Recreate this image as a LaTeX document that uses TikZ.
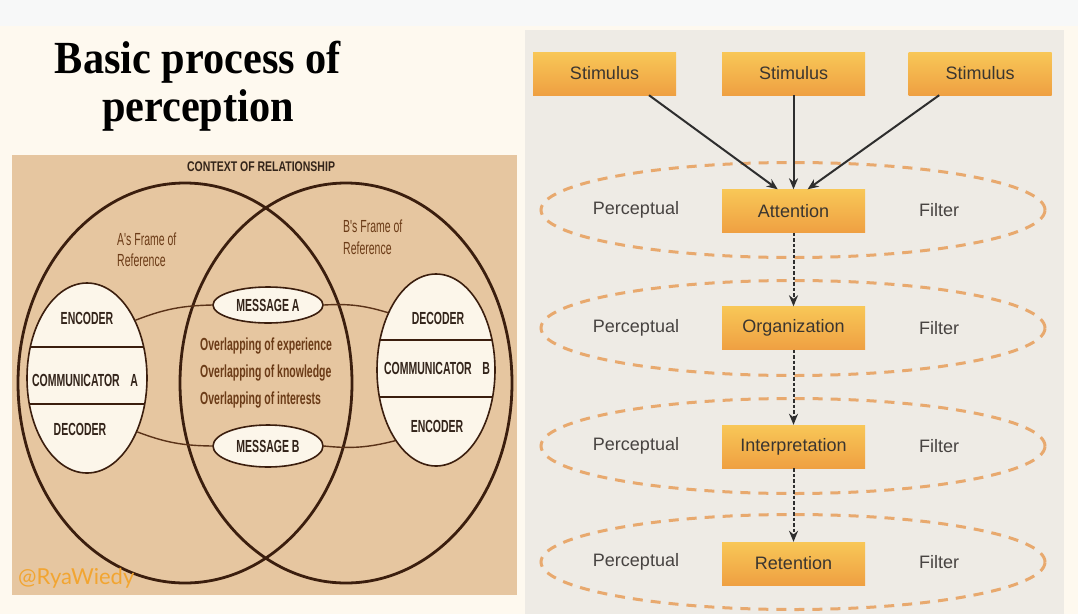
\documentclass[tikz,border=0pt]{standalone}
\usepackage{fontspec}
\setmainfont{Liberation Sans}
\newfontfamily\narrowsans[FakeStretch=0.6]{Liberation Sans}
\newfontfamily\ctxsans[FakeStretch=0.75]{Liberation Sans}
\newfontfamily\titleserif[FakeStretch=0.92]{Liberation Serif}
\newfontfamily\wmfont{Lato}
\usetikzlibrary{shapes.geometric,arrows.meta}
\definecolor{topstrip}{HTML}{F7F8F8}
\definecolor{creambg}{HTML}{FEF9EF}
\definecolor{rightbg}{HTML}{EEEBE5}
\definecolor{tanbg}{HTML}{E6C6A0}
\definecolor{darkbrown}{HTML}{3B1E0E}
\definecolor{linebrown}{HTML}{5A3218}
\definecolor{ellfill}{HTML}{FCF6EA}
\definecolor{browntext}{HTML}{6B3B17}
\definecolor{darktext}{HTML}{33241A}
\definecolor{dashorange}{HTML}{E8A96E}
\definecolor{boxtop}{HTML}{F8C757}
\definecolor{boxbottom}{HTML}{EFA042}
\definecolor{boxtext}{HTML}{3A3530}
\definecolor{labeltext}{HTML}{474341}
\definecolor{arrowgray}{HTML}{2E2E2E}
\definecolor{wmorange}{HTML}{F2A531}
\begin{document}
\begin{tikzpicture}[x=1pt,y=-1pt,
  bigcircle/.style={draw=darkbrown, line width=2.8pt},
  smallell/.style={ellipse, draw=darkbrown, line width=1.6pt, fill=ellfill, inner sep=0pt},
  chord/.style={draw=darkbrown, line width=1.5pt},
  conn/.style={draw=linebrown, line width=1.4pt},
  celltext/.style={text=darktext, font=\narrowsans\bfseries\fontsize{17.5}{19}\selectfont, inner sep=0pt},
  browntxt/.style={text=browntext, font=\narrowsans\fontsize{17.5}{21}\selectfont, inner sep=0pt, align=left},
  stagebox/.style={rectangle, minimum width=143pt, minimum height=43pt, top color=boxtop, bottom color=boxbottom, draw=none, text=boxtext, font=\fontsize{18}{20}\selectfont, inner sep=0pt},
  filterell/.style={ellipse, draw=dashorange, line width=3pt, dash pattern=on 10pt off 8pt, inner sep=0pt, minimum width=504pt, minimum height=95pt},
  sidelabel/.style={text=labeltext, font=\fontsize{18}{20}\selectfont, inner sep=0pt},
  arr/.style={draw=arrowgray, line width=2pt, -{Stealth[length=11pt,width=9pt]}},
  darr/.style={draw=arrowgray, line width=2pt, dash pattern=on 3.5pt off 2pt, -{Stealth[length=11pt,width=9pt]}}
]
\useasboundingbox (0,0) rectangle (1078,614);
% backgrounds
\fill[topstrip] (0,0) rectangle (1078,26);
\fill[creambg] (0,26) rectangle (1078,614);
\fill[rightbg] (525,30) rectangle (1064,614);
\fill[tanbg] (12,155) rectangle (517,595);

% title
\node[font=\titleserif\bfseries\fontsize{46}{48}\selectfont, align=center, inner sep=0pt] (title) at (198,86) {Basic process of\\perception};

% left panel
\node[text=darktext, font=\ctxsans\bfseries\fontsize{14}{15}\selectfont, inner sep=0pt] (ctx) at (261,167) {CONTEXT OF RELATIONSHIP};
\draw[bigcircle] (185,383) ellipse [x radius=167pt, y radius=200pt];
\draw[bigcircle] (346,383) ellipse [x radius=166pt, y radius=200pt];

\node[browntxt, anchor=west] (frameA) at (117,250) {A's Frame of\\Reference};
\node[browntxt, anchor=west, font=\narrowsans\fontsize{17.5}{22}\selectfont] (frameB) at (343,237) {B's Frame of\\Reference};

\node[smallell, minimum width=120pt, minimum height=190pt] (ca) at (87,378) {};
\node[smallell, minimum width=118pt, minimum height=192pt] (cb) at (436,370) {};
\begin{scope}
  \clip (87,378) ellipse [x radius=60pt, y radius=95pt];
  \draw[chord] (20,347) -- (160,347);
  \draw[chord] (20,404) -- (160,404);
\end{scope}
\begin{scope}
  \clip (436,370) ellipse [x radius=59pt, y radius=96pt];
  \draw[chord] (370,340) -- (500,340);
  \draw[chord] (370,397) -- (500,397);
\end{scope}

\node[celltext] (encA) at (87,318) {ENCODER};
\node[celltext] (comA) at (85,380) {COMMUNICATOR\hspace{0.6em}A};
\node[celltext] (decA) at (80,429) {DECODER};
\node[celltext] (decB) at (438,318) {DECODER};
\node[celltext] (comB) at (437,368) {COMMUNICATOR\hspace{0.6em}B};
\node[celltext] (encB) at (437,426) {ENCODER};

\node[smallell, minimum width=110pt, minimum height=36pt, font=\narrowsans\bfseries\fontsize{17.5}{19}\selectfont, text=darktext] (ma) at (268,305) {MESSAGE A};
\node[smallell, minimum width=110pt, minimum height=42pt, font=\narrowsans\bfseries\fontsize{17.5}{19}\selectfont, text=darktext] (mb) at (268,446) {MESSAGE B};

\draw[conn] (ca.50) to[bend left=10] (ma.west);
\draw[conn] (ma.east) to[bend left=10] (cb.130);
\draw[conn] (ca.-47) to[bend right=10] (mb.west);
\draw[conn] (mb.east) to[bend right=10] (cb.240);

\node[browntxt, font=\narrowsans\bfseries\fontsize{17.5}{27}\selectfont, anchor=west] (overlap) at (200,373) {Overlapping of experience\\Overlapping of knowledge\\Overlapping of interests};

\node[text=wmorange, font=\wmfont\fontsize{22}{24}\selectfont, inner sep=0pt, anchor=base west] (wm) at (18,584) {@RyaWiedy};

% right panel
\node[filterell] (f1) at (793,210) {};
\node[filterell] (f2) at (793,328) {};
\node[filterell] (f3) at (793,446) {};
\node[filterell] (f4) at (793,562) {};

\node[stagebox] (s1) at (604.5,73.5) {Stimulus};
\node[stagebox] (s2) at (793.5,73.5) {Stimulus};
\node[stagebox] (s3) at (980,73.5) {Stimulus};
\node[stagebox] (att) at (793.5,211) {Attention};
\node[stagebox] (org) at (793.5,328) {Organization};
\node[stagebox] (int) at (793.5,446.5) {Interpretation};
\node[stagebox] (ret) at (793.5,563.5) {Retention};

\foreach \y/\n in {210/1,328/2,446/3,562/4}{
  \node[sidelabel] (p\n) at (636,\y) {Perceptual};
  \node[sidelabel] (fl\n) at (939,\y) {Filter};
}

\draw[arr] (s1.-26.3) -- (att.126.4);
\draw[arr] (s2.south) -- (att.north);
\draw[arr] (s3.208.3) -- (att.57.3);
\draw[darr] (att.south) -- (org.north);
\draw[darr] (org.south) -- (int.north);
\draw[darr] (int.south) -- (ret.north);
\end{tikzpicture}
\end{document}
